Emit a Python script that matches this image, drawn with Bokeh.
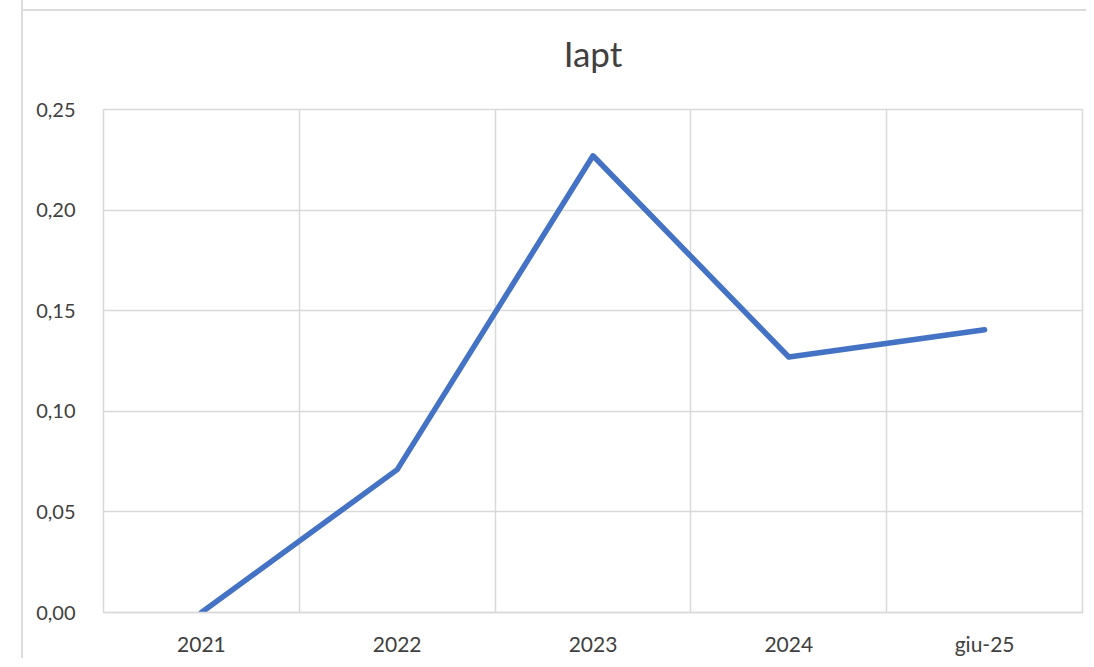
from bokeh.plotting import figure
from bokeh.models import Range1d, FixedTicker, CustomJSTickFormatter
from bokeh.embed import file_html
from bokeh.resources import INLINE

categories = ["2021", "2022", "2023", "2024", "giu-25"]
values = [0.000, 0.071, 0.227, 0.127, 0.1405]
y_ticks = [0.00, 0.05, 0.10, 0.15, 0.20, 0.25]
title_text = "Iapt"

FONT = "Lato"
GRID = "#d9d9d9"
LABEL = "#404040"
CHART_BORDER = "#dcdcdc"

xs = list(range(len(categories)))

p = figure(
    frame_width=979, frame_height=503,
    min_border_left=80, min_border_top=116, min_border_right=4, min_border_bottom=45,
    x_range=Range1d(-0.5, len(categories) - 0.5),
    y_range=Range1d(y_ticks[0], y_ticks[-1]),
    output_backend="svg", toolbar_location=None, tools="",
    title=title_text,
)
# chart-area border (top line drawn as a background stripe, left as a css border)
p.styles = {
    "margin-left": "21px", "margin-top": "-7px",
    "border-left": f"2px solid {CHART_BORDER}",
    "background-color": "white",
    "background-image": f"linear-gradient({CHART_BORDER}, {CHART_BORDER})",
    "background-size": "100% 2px",
    "background-position": "0 16px",
    "background-repeat": "no-repeat",
}

p.title.align = "center"
p.title.text_font = FONT
p.title.text_font_size = "35px"
p.title.text_font_style = "normal"
p.title.text_color = "#404040"
p.title.standoff = 72

p.outline_line_color = GRID
p.outline_line_width = 1.5
p.background_fill_color = "white"
p.border_fill_color = None

# x axis
p.xaxis.ticker = FixedTicker(ticks=xs)
p.xaxis.major_label_overrides = {i: c for i, c in enumerate(categories)}
p.xaxis.axis_line_color = GRID
p.xaxis.axis_line_width = 1.5
p.xaxis.major_tick_line_color = None
p.xaxis.minor_tick_line_color = None
p.xaxis.major_label_standoff = 12
p.xaxis.major_label_text_font = FONT
p.xaxis.major_label_text_font_size = "21px"
p.xaxis.major_label_text_color = LABEL

# y axis
p.yaxis.ticker = FixedTicker(ticks=y_ticks)
p.yaxis.formatter = CustomJSTickFormatter(code="return tick.toFixed(2).replace('.', ',');")
p.yaxis.axis_line_color = None
p.yaxis.major_tick_line_color = None
p.yaxis.minor_tick_line_color = None
p.yaxis.major_label_standoff = 22
p.yaxis.major_label_text_font = FONT
p.yaxis.major_label_text_font_size = "20px"
p.yaxis.major_label_text_color = LABEL

# grids
p.xgrid.ticker = FixedTicker(ticks=[i + 0.5 for i in xs[:-1]])
p.xgrid.grid_line_color = GRID
p.xgrid.grid_line_width = 1.5
p.ygrid.ticker = FixedTicker(ticks=y_ticks)
p.ygrid.grid_line_color = GRID
p.ygrid.grid_line_width = 1.5

p.line(xs, values, line_color="#4472C4", line_width=5.5, line_cap="round", line_join="round")

open("out.html", "w").write(file_html(p, INLINE))
